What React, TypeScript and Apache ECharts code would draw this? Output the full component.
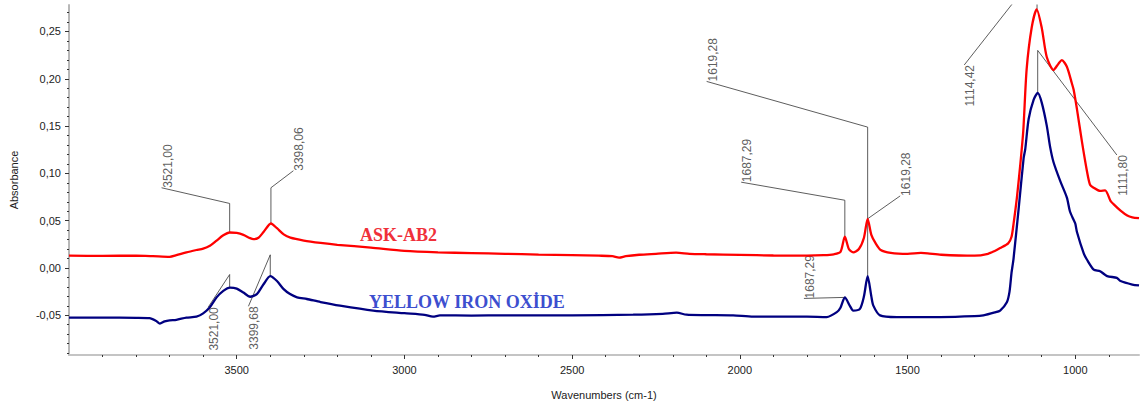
import React, { useEffect, useRef } from "react";
import * as echarts from "echarts";

// ---- Data (wavenumber cm-1, absorbance) ----
const askAb2: [number, number][] = [
  [4000, 0.013], [3900, 0.0128], [3800, 0.013], [3750, 0.0125], [3700, 0.0118], [3680, 0.0135],
  [3650, 0.0165], [3620, 0.019], [3600, 0.0205], [3580, 0.0235], [3560, 0.029], [3540, 0.0345],
  [3521, 0.0375], [3500, 0.037], [3480, 0.035], [3460, 0.0315], [3450, 0.0305], [3435, 0.032],
  [3420, 0.038], [3398, 0.047], [3380, 0.042], [3360, 0.0355], [3340, 0.032], [3300, 0.029],
  [3250, 0.0265], [3200, 0.0245], [3100, 0.0215], [3000, 0.018], [2900, 0.0165], [2800, 0.0158],
  [2700, 0.015], [2600, 0.0142], [2500, 0.0136], [2420, 0.013], [2380, 0.0125], [2360, 0.011],
  [2340, 0.0125], [2300, 0.014], [2250, 0.015], [2190, 0.0162], [2150, 0.015], [2100, 0.0145],
  [2000, 0.0138], [1900, 0.0132], [1800, 0.013], [1750, 0.0135], [1720, 0.0145], [1700, 0.017],
  [1687, 0.033], [1675, 0.02], [1662, 0.0165], [1645, 0.02], [1630, 0.032], [1619, 0.052],
  [1608, 0.035], [1595, 0.026], [1580, 0.019], [1550, 0.016], [1500, 0.015], [1460, 0.016],
  [1440, 0.0155], [1400, 0.014], [1300, 0.013], [1260, 0.015], [1240, 0.018], [1224, 0.021],
  [1200, 0.026], [1190, 0.033], [1184, 0.0467], [1174, 0.0744], [1164, 0.109], [1155, 0.145],
  [1145, 0.21], [1130, 0.254], [1115, 0.2734], [1100, 0.254], [1085, 0.223], [1065, 0.2094],
  [1050, 0.216], [1040, 0.2197], [1025, 0.2128], [1010, 0.195], [1005, 0.1886], [995, 0.168],
  [980, 0.1333], [965, 0.102], [956, 0.088], [945, 0.0848], [926, 0.0814], [911, 0.082],
  [895, 0.071], [886, 0.0675], [865, 0.0606], [845, 0.0554], [830, 0.0535], [810, 0.0526],
];

const yellowIronOxide: [number, number][] = [
  [4000, -0.0525], [3900, -0.0525], [3800, -0.0527], [3760, -0.053], [3740, -0.056], [3729, -0.0588],
  [3715, -0.0565], [3700, -0.0553], [3680, -0.0548], [3650, -0.0525], [3620, -0.0515], [3600, -0.048],
  [3580, -0.0415], [3560, -0.0311], [3540, -0.0242], [3520, -0.0208], [3500, -0.0218], [3480, -0.026],
  [3460, -0.0304], [3440, -0.0276], [3420, -0.0172], [3400, -0.0086], [3380, -0.0138], [3360, -0.0224],
  [3341, -0.0276], [3320, -0.031], [3291, -0.0328], [3250, -0.036], [3192, -0.0398], [3093, -0.045],
  [3000, -0.0478], [2940, -0.0495], [2915, -0.0515], [2894, -0.0501], [2800, -0.0503], [2700, -0.0501],
  [2500, -0.0501], [2318, -0.0494], [2230, -0.0485], [2188, -0.0473], [2159, -0.0494], [2100, -0.0498],
  [2020, -0.0501], [1960, -0.0515], [1880, -0.0515], [1800, -0.0515], [1741, -0.0519], [1711, -0.0467],
  [1700, -0.042], [1687, -0.0311], [1672, -0.04], [1662, -0.045], [1642, -0.0432], [1630, -0.03],
  [1619, -0.0086], [1608, -0.03], [1602, -0.0398], [1582, -0.0501], [1532, -0.0519], [1403, -0.0519],
  [1300, -0.051], [1274, -0.0501], [1240, -0.047], [1224, -0.045], [1204, -0.0363], [1196, -0.025],
  [1190, -0.005], [1184, 0.01], [1169, 0.062], [1154, 0.116], [1149, 0.126], [1139, 0.1575],
  [1124, 0.178], [1112, 0.185], [1100, 0.1748], [1085, 0.1505], [1075, 0.128], [1065, 0.112],
  [1045, 0.092], [1025, 0.0744], [1016, 0.06], [1005, 0.0509], [1000, 0.047], [995, 0.038],
  [975, 0.0156], [965, 0.0087], [945, -0.0017], [926, -0.0034], [905, -0.0086], [876, -0.0104],
  [865, -0.0138], [830, -0.0175], [810, -0.0185],
];

// ---- Axes ----
const xMin = 810;
const xMax = 4000;
const yMin = -0.092;
const yMax = 0.278;
const xMajorTicks = [1000, 1500, 2000, 2500, 3000, 3500];
const xMinorTicks = [900, 1000, 1100, 1200, 1300, 1400, 1500, 1600, 1700, 1800, 1900, 2000, 2100, 2200, 2300, 2400, 2500, 2600, 2700, 2800, 2900, 3000, 3100, 3200, 3300, 3400, 3500, 3600, 3700, 3800, 3900];
const yMajorTicks = [-0.05, 0, 0.05, 0.1, 0.15, 0.2, 0.25];
const yMinorTicks = [-0.09, -0.08, -0.07, -0.06, -0.05, -0.04, -0.03, -0.02, -0.01, 0, 0.01, 0.02, 0.03, 0.04, 0.05, 0.06, 0.07, 0.08, 0.09, 0.1, 0.11, 0.12, 0.13, 0.14, 0.15, 0.16, 0.17, 0.18, 0.19, 0.2, 0.21, 0.22, 0.23, 0.24, 0.25, 0.26, 0.27];

// ---- Peak annotations (leader polyline in data coords, label at its last point) ----
const peakTexts = ["3521,00", "3398,06", "3521,00", "3399,68", "1687,29", "1619,28", "1619,28", "1687,29", "1114,42", "1111,80"];
const peakLeaders: [number, number][][] = [
  [[3521, 0.0375], [3521, 0.0682], [3724, 0.0848]],
  [[3398, 0.047], [3398, 0.0848], [3331, 0.1028]],
  [[3521, -0.0208], [3521, -0.0069], [3585, -0.0415]],
  [[3400, -0.0086], [3400, 0.0139], [3465, -0.0405]],
  [[1687, 0.033], [1687, 0.0716], [1996, 0.0907]],
  [[1619, 0.052], [1522, 0.0762]],
  [[1619, -0.0086], [1619, 0.1489], [2099, 0.1972]],
  [[1687, -0.0311], [1809, -0.0322]],
  [[1114, 0.2734], [1114, 0.3125], [1331, 0.2146]],
  [[1112, 0.185], [1112, 0.23], [876, 0.1194]],
];
const peakAlign = ["left", "left", "right", "right", "left", "left", "left", "left", "right", "right"];

const labelFont = "'Liberation Sans', Arial, sans-serif";

export default function App() {
  const ref = useRef<HTMLDivElement>(null);
  useEffect(() => {
    if (!ref.current) return;
    const chart = echarts.init(ref.current, null, { renderer: "svg" });
    const leaderSeries = peakLeaders.map((pts) => ({
      type: "line",
      xAxisIndex: 0,
      yAxisIndex: 0,
      data: pts,
      symbol: "none",
      silent: true,
      clip: true,
      z: 2,
      lineStyle: { color: "#333", width: 0.8 },
    }));
    const option: any = {
      animation: false,
      grid: { left: 69, right: 8, top: 5, bottom: 44, containLabel: false },
      xAxis: [
        {
          type: "value",
          inverse: true,
          min: xMin,
          max: xMax,
          name: "Wavenumbers (cm-1)",
          nameLocation: "middle",
          nameGap: 34,
          nameTextStyle: { fontFamily: labelFont, fontSize: 11, color: "#222" },
          axisLine: { show: true, onZero: false, lineStyle: { color: "#c4c4c4", width: 2 } },
          axisTick: { show: true, customValues: xMajorTicks, length: 4, lineStyle: { color: "#333", width: 1 } },
          axisLabel: {
            customValues: xMajorTicks,
            margin: 9,
            fontFamily: labelFont,
            fontSize: 11,
            color: "#222",
            formatter: (v: number) => String(v),
          },
          splitLine: { show: false },
        },
        {
          type: "value",
          inverse: true,
          min: xMin,
          max: xMax,
          position: "bottom",
          axisLine: { show: false, onZero: false },
          axisTick: { show: true, customValues: xMinorTicks, length: 2, lineStyle: { color: "#333", width: 1 } },
          axisLabel: { show: false },
          splitLine: { show: false },
        },
      ],
      yAxis: [
        {
          type: "value",
          min: yMin,
          max: yMax,
          name: "Absorbance",
          nameLocation: "middle",
          nameGap: 50,
          nameTextStyle: { fontFamily: labelFont, fontSize: 11, color: "#222" },
          axisLine: { show: true, onZero: false, lineStyle: { color: "#b8b8b8", width: 2 } },
          axisTick: { show: true, customValues: yMajorTicks, length: 4, lineStyle: { color: "#333", width: 1 } },
          axisLabel: {
            customValues: yMajorTicks,
            margin: 8,
            fontFamily: labelFont,
            fontSize: 11,
            color: "#222",
            formatter: (v: number) => v.toFixed(2).replace(".", ","),
          },
          splitLine: { show: false },
        },
        {
          type: "value",
          min: yMin,
          max: yMax,
          position: "left",
          axisLine: { show: false, onZero: false },
          axisTick: { show: true, customValues: yMinorTicks, length: 2, lineStyle: { color: "#333", width: 1 } },
          axisLabel: { show: false },
          splitLine: { show: false },
        },
      ],
      series: [
        ...leaderSeries,
        {
          type: "scatter",
          xAxisIndex: 0,
          yAxisIndex: 0,
          symbolSize: 0,
          silent: true,
          z: 2,
          data: peakLeaders.map((pts, i) => ({
            value: pts[pts.length - 1],
            label: {
              show: true,
              formatter: peakTexts[i],
              position: "inside",
              rotate: 90,
              align: peakAlign[i],
              verticalAlign: "top",
              fontFamily: labelFont,
              fontSize: 12,
              color: "#333",
            },
          })),
        },
        {
          type: "line",
          name: "ASK-AB2",
          xAxisIndex: 0,
          yAxisIndex: 0,
          data: askAb2,
          symbol: "none",
          smooth: 0.25,
          z: 5,
          lineStyle: { color: "#ff0000", width: 2.3 },
        },
        {
          type: "line",
          name: "YELLOW IRON OXİDE",
          xAxisIndex: 0,
          yAxisIndex: 0,
          data: yellowIronOxide,
          symbol: "none",
          smooth: 0.25,
          z: 5,
          lineStyle: { color: "#000080", width: 2.3 },
        },
      ],
      graphic: [
        {
          type: "text",
          left: 360,
          top: 226,
          style: {
            text: "ASK-AB2",
            fill: "#f0303a",
            font: "bold 18px 'Liberation Serif', 'Times New Roman', serif",
          },
        },
        {
          type: "text",
          left: 369,
          top: 293,
          style: {
            text: "YELLOW IRON OXİDE",
            fill: "#3d4fcf",
            font: "bold 18px 'Liberation Serif', 'Times New Roman', serif",
          },
        },
      ],
    };
    chart.setOption(option);
    return () => chart.dispose();
  }, []);
  return (
    <div
      ref={ref}
      style={{ position: "fixed", left: 0, top: 0, width: 1147, height: 405, background: "#fff" }}
    />
  );
}
